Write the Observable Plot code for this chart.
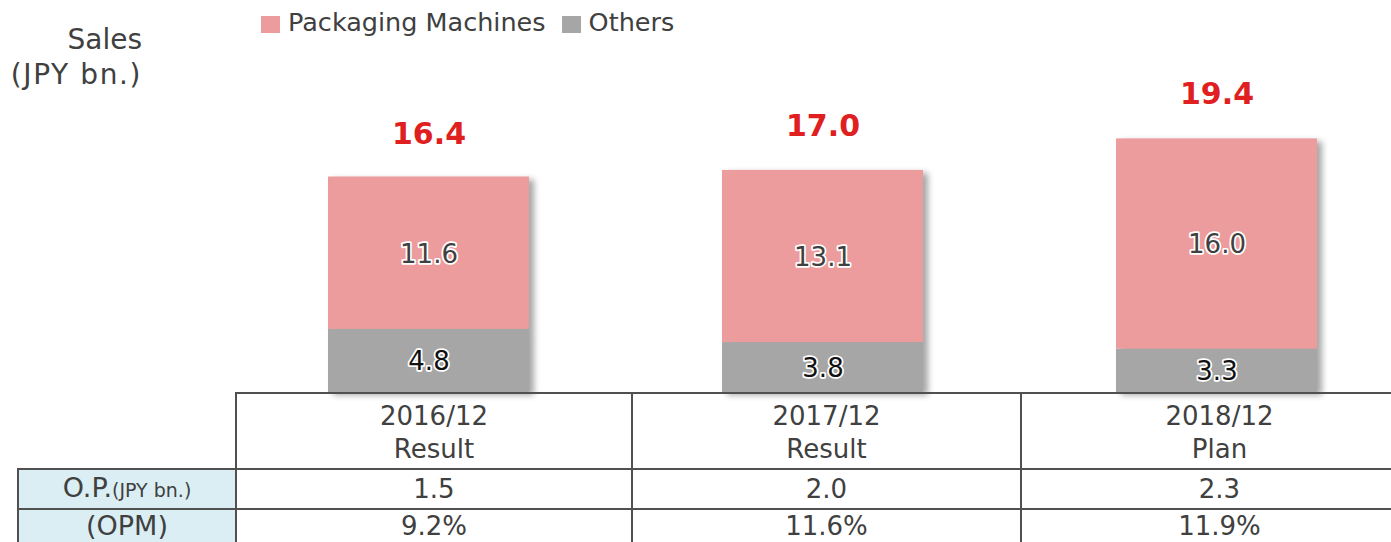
<!DOCTYPE html>
<html><head><meta charset="utf-8">
<script src="https://cdn.jsdelivr.net/npm/d3@7"></script>
<script src="https://cdn.jsdelivr.net/npm/@observablehq/plot@0.6"></script>
<style>
body{margin:0;background:#fff;font-family:"DejaVu Sans",Verdana,sans-serif;color:#404040;}
#wrap{position:relative;width:1391px;height:542px;overflow:hidden;}
#chart{position:absolute;left:0;top:0;}
#ylabel{position:absolute;right:1249px;top:22px;font-size:28px;line-height:35px;text-align:right;white-space:nowrap;}
#ylabel .u{letter-spacing:1.6px;}
#legend{position:absolute;left:261px;top:7px;font-size:25.5px;line-height:30px;display:flex;align-items:center;white-space:nowrap;}
.sw{display:inline-block;width:19px;height:17px;margin-right:8px;position:relative;top:2px;}
.item{display:flex;align-items:center;margin-right:16px;}
table{position:absolute;left:17px;top:392px;width:1400px;border-collapse:collapse;table-layout:fixed;font-size:26px;color:#404040;}
td{border:2px solid #505050;text-align:center;padding:0;white-space:nowrap;overflow:visible;}
td.lab{background:#daeef3;}
td.blank{border:none;}
tr.h td{height:76px;line-height:33px;padding-top:4px;box-sizing:border-box;}
tr.r td{height:38px;line-height:36px;}
tr.last td{height:36px;line-height:30px;vertical-align:top;padding-top:1px;}
.big{font-size:27px;}
.small{font-size:19px;}
</style>
</head><body>
<div id="wrap">
  <div id="chart"></div>
  <div id="ylabel">Sales<br><span class="u">(JPY bn.)</span></div>
  <div id="legend"></div>
  <table id="tbl"></table>
</div>
<script>
const categories = ["2016/12", "2017/12", "2018/12"];
const periodLabels = ["Result", "Result", "Plan"];
const series = ["Packaging Machines", "Others"];
const packaging = [11.6, 13.1, 16.0];
const others = [4.8, 3.8, 3.3];
const totals = [16.4, 17.0, 19.4];
const opValues = ["1.5", "2.0", "2.3"];
const opmValues = ["9.2%", "11.6%", "11.9%"];
const colors = ["#ec9c9c", "#a6a6a6"];

const rows = [];
categories.forEach((c, i) => {
  rows.push({cat: c, series: "Others", value: others[i]});
  rows.push({cat: c, series: "Packaging Machines", value: packaging[i]});
});

const plot = Plot.plot({
  width: 1391,
  height: 392,
  margin: 0,
  x: {domain: categories, range: [235, 1410], paddingInner: 0.49, paddingOuter: 0.236, axis: null},
  y: {domain: [0, 392 / 13.14], range: [392, 0], axis: null},
  color: {domain: series, range: colors},
  style: {fontFamily: "DejaVu Sans, Verdana, sans-serif", overflow: "visible", background: "transparent"},
  marks: [
    Plot.barY(rows, {x: "cat", y: "value", fill: "series"}),
    Plot.text(rows, Plot.stackY({
      x: "cat", y: "value", z: "series",
      text: d => d.value.toFixed(1),
      fill: d => d.series === "Others" ? "#111" : "#404040",
      stroke: "white", strokeWidth: 3.5, paintOrder: "stroke",
      fontSize: 26, dy: 1
    })),
    Plot.text(categories, {
      x: d => d, y: (d, i) => totals[i],
      text: (d, i) => totals[i].toFixed(1),
      fill: "#e02020", fontWeight: "bold", fontSize: 30, dy: -43
    })
  ]
});
const barG = plot.querySelector('g[aria-label="bar"]');
if (barG) barG.style.filter = "drop-shadow(5px 3px 3px rgba(0,0,0,0.35))";
document.getElementById("chart").appendChild(plot);

// legend
const leg = document.getElementById("legend");
series.forEach((s, i) => {
  const it = document.createElement("div");
  it.className = "item";
  it.innerHTML = `<span class="sw" style="background:${colors[i]}"></span><span>${s}</span>`;
  leg.appendChild(it);
});

// table
const tbl = document.getElementById("tbl");
const cg = document.createElement("colgroup");
[218, 396, 389, 397].forEach(w => { const c = document.createElement("col"); c.style.width = w + "px"; cg.appendChild(c); });
tbl.appendChild(cg);
const tr1 = document.createElement("tr"); tr1.className = "h";
tr1.innerHTML = `<td class="blank"></td>` + categories.map((c, i) => `<td>${c}<br>${periodLabels[i]}</td>`).join("");
const tr2 = document.createElement("tr"); tr2.className = "r";
tr2.innerHTML = `<td class="lab"><span class="big">O.P.</span><span class="small">(JPY bn.)</span></td>` + opValues.map(v => `<td>${v}</td>`).join("");
const tr3 = document.createElement("tr"); tr3.className = "r last";
tr3.innerHTML = `<td class="lab"><span class="big">(OPM)</span></td>` + opmValues.map(v => `<td>${v}</td>`).join("");
tbl.appendChild(tr1); tbl.appendChild(tr2); tbl.appendChild(tr3);
</script>
</body></html>
